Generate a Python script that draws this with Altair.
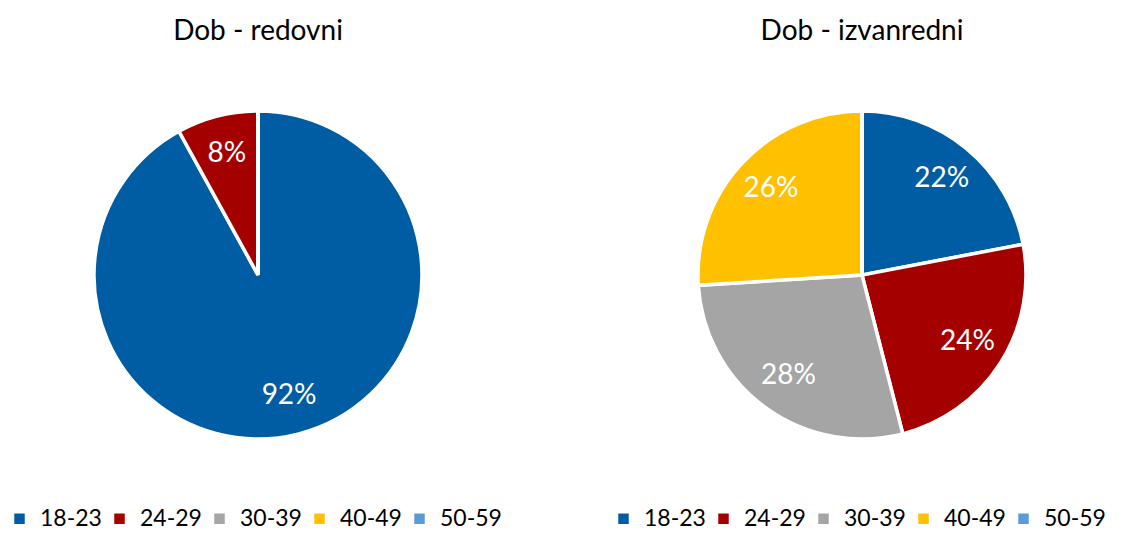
import altair as alt
import pandas as pd

FONT = "Lato"

categories = ["18-23", "24-29", "30-39", "40-49", "50-59"]
redovni = [92, 8, 0, 0, 0]
izvanredni = [22, 24, 28, 26, 0]
colors = ["#005DA3", "#A50000", "#A5A5A5", "#FFC000", "#5B9BD5"]
titles = ["Dob - redovni", "Dob - izvanredni"]


def pie(values, title):
    df = pd.DataFrame({
        "kategorija": categories,
        "udio": values,
        "red": list(range(len(categories))),
        "oznaka": [f"{v}%" for v in values],
    })
    base = alt.Chart(df).encode(
        theta=alt.Theta("udio:Q", stack=True),
        order=alt.Order("red:Q"),
    )
    arcs = base.mark_arc(outerRadius=164, stroke="white", strokeWidth=3.5).encode(
        color=alt.Color(
            "kategorija:N",
            scale=alt.Scale(domain=categories, range=colors),
            legend=alt.Legend(
                orient="bottom", direction="horizontal", title=None,
                symbolType="square", symbolSize=110, symbolStrokeWidth=0,
                labelFontSize=23, labelFont=FONT, labelColor="#000000",
                columnPadding=6, labelOffset=9, offset=32, padding=0,
            ),
        )
    )
    text = base.mark_text(radius=125, fontSize=28, color="white", font=FONT).encode(
        text="oznaka:N"
    ).transform_filter("datum.udio > 0")
    return alt.layer(arcs, text).properties(
        width=500, height=400,
        title=alt.TitleParams(title, fontSize=28, font=FONT, fontWeight="normal", color="#000000", offset=29),
    )


chart = alt.hconcat(pie(redovni, titles[0]), pie(izvanredni, titles[1]), spacing=104).resolve_scale(
    color="independent", theta="independent"
).properties(padding={"top": 10, "left": 0, "right": 0, "bottom": 0}).configure_view(stroke=None)

chart.save("out.html", embed_options={"renderer": "svg", "actions": False})
